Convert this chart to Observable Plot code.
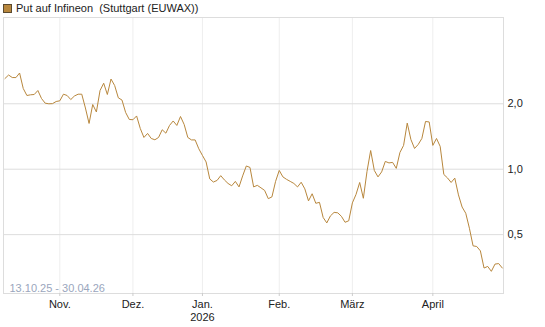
<!DOCTYPE html>
<html>
<head>
<meta charset="utf-8">
<script src="https://cdn.jsdelivr.net/npm/d3@7"></script>
<script src="https://cdn.jsdelivr.net/npm/@observablehq/plot@0.6"></script>
<style>
  html, body { margin: 0; padding: 0; background: #fff; }
  #wrap { position: relative; width: 545px; height: 327px; font-family: "Liberation Sans", Arial, sans-serif; }
  #legend { position: absolute; left: 3px; top: 2px; font-size: 11px; color: #222; white-space: pre; line-height: 13px; display: flex; align-items: center; }
  #legend .sw { display: inline-block; width: 7px; height: 7px; background: #b8873d; border: 1px solid #5a4a30; margin-right: 4px; }
</style>
</head>
<body>
<div id="wrap"><div id="legend"><span class="sw"></span><span id="ltxt"></span></div></div>
<script>
const seriesName = "Put auf Infineon  (Stuttgart (EUWAX))";
const rangeLabel = "13.10.25 - 30.04.26";
// one value per trading day, 13.10.2025 ... 30.04.2026
const values = [
  2.614, 2.713, 2.642, 2.64, 2.771, 2.352, 2.184, 2.200, 2.207, 2.302,
  2.115, 2.013, 2.000, 2.003, 2.049, 2.064, 2.214, 2.184, 2.092, 2.172,
  2.214, 2.214, 1.913, 1.624, 1.985, 1.834, 2.302, 2.487, 2.207, 2.600,
  2.427, 2.131, 2.081, 1.824, 1.694, 1.689, 1.758, 1.540, 1.400, 1.461,
  1.385, 1.366, 1.400, 1.519, 1.465, 1.590, 1.667, 1.590, 1.748, 1.607,
  1.400, 1.364, 1.364, 1.242, 1.157, 1.080, 0.902, 0.873, 0.888, 0.934,
  0.893, 0.860, 0.839, 0.879, 0.829, 0.932, 1.035, 1.019, 0.829, 0.843,
  0.821, 0.799, 0.732, 0.746, 0.879, 0.987, 0.922, 0.898, 0.879, 0.860,
  0.829, 0.871, 0.812, 0.715, 0.771, 0.697, 0.704, 0.600, 0.566, 0.610,
  0.633, 0.630, 0.607, 0.570, 0.579, 0.700, 0.766, 0.869, 0.735, 0.977,
  1.219, 0.987, 0.922, 0.972, 1.086, 1.069, 1.075, 1.009, 1.194, 1.287,
  1.630, 1.370, 1.246, 1.300, 1.385, 1.658, 1.650, 1.287, 1.385, 1.274,
  0.946, 0.912, 0.869, 0.910, 0.762, 0.670, 0.627, 0.535, 0.444, 0.441,
  0.421, 0.351, 0.357, 0.339, 0.366, 0.368, 0.351
];
// trading-day index of each month's first session
const monthTicks = [15, 35, 54, 75, 95, 117];
const monthLabels = ["Nov.", "Dez.", "Jan.\n2026", "Feb.", "März", "April"];
const yTicks = [0.5, 1, 2];

document.getElementById("ltxt").textContent = seriesName;
const data = values.map((v, i) => ({i, v}));
const labelOf = new Map(monthTicks.map((t, k) => [t, monthLabels[k]]));

const chart = Plot.plot({
  width: 545,
  height: 327,
  marginLeft: 3,
  marginRight: 42,
  marginTop: 17,
  marginBottom: 34,
  style: {fontFamily: "'Liberation Sans', Arial, sans-serif", fontSize: "11px", color: "#222", background: "transparent"},
  x: {domain: [-0.3965, 136.32]},
  y: {type: "log", domain: [0.268, 4.99]},
  marks: [
    Plot.gridX(monthTicks, {stroke: "#eeeeee", strokeOpacity: 1}),
    Plot.gridY(yTicks, {stroke: "#dddddd", strokeOpacity: 1}),
    Plot.frame({stroke: "#dddddd"}),
    Plot.axisY(yTicks, {anchor: "right", tickSize: 0, tickPadding: 4, label: null,
      tickFormat: d => d.toFixed(1).replace(".", ",")}),
    Plot.axisX(monthTicks, {anchor: "bottom", tickSize: 3, tickPadding: 3, label: null, stroke: "#cccccc",
      lineHeight: 1.15, tickFormat: d => labelOf.get(d)}),
    Plot.line(data, {x: "i", y: "v", stroke: "#b8873d", strokeWidth: 1}),
    Plot.text([rangeLabel], {frameAnchor: "bottom-left", dx: 6, dy: -2, fill: "#9aa6bd", fontSize: 11})
  ]
});
chart.style.position = "absolute";
chart.style.left = "0px";
chart.style.top = "0px";
document.getElementById("wrap").insertBefore(chart, document.getElementById("legend"));
</script>
</body>
</html>
